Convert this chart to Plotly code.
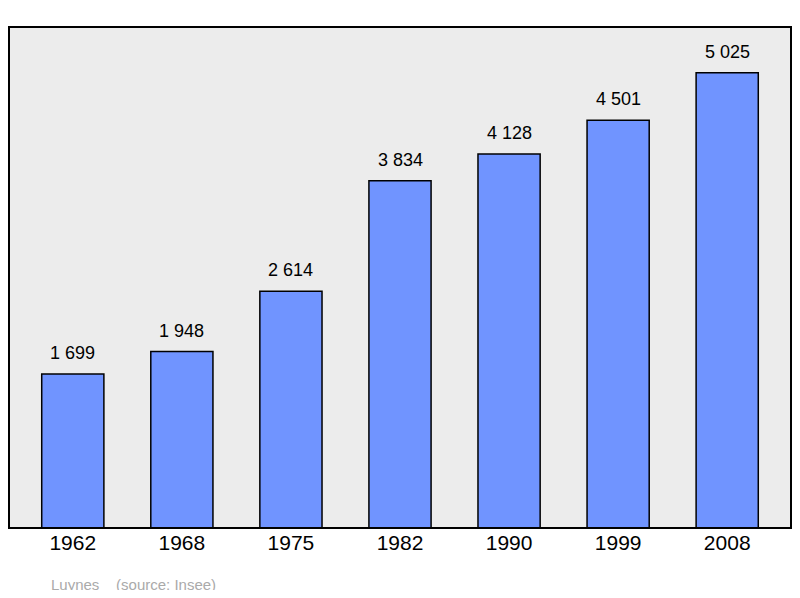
import plotly.graph_objects as go

years = ["1962", "1968", "1975", "1982", "1990", "1999", "2008"]
population = [1699, 1948, 2614, 3834, 4128, 4501, 5025]
labels = ["1 699", "1 948", "2 614", "3 834", "4 128", "4 501", "5 025"]

fig = go.Figure(go.Bar(
    x=list(range(len(years))), y=population,
    width=0.57,
    marker=dict(color="#7094ff", line=dict(color="black", width=1.5)),
    hoverinfo="skip",
))
for i, (v, t) in enumerate(zip(population, labels)):
    fig.add_annotation(x=i, y=v, text=t, showarrow=False, yanchor="bottom",
                       yshift=9, font=dict(size=18, color="black"))
fig.add_annotation(xref="paper", yref="paper", x=0.051, y=-0.112, xanchor="left",
                   yanchor="middle", showarrow=False,
                   text="Luynes    (source: Insee)", font=dict(size=15, color="#aaaaaa"))
fig.add_shape(type="rect", xref="paper", yref="paper", x0=0, x1=1, y0=0, y1=1,
              line=dict(color="black", width=2), layer="above")
fig.update_layout(
    width=790, height=582,
    margin=dict(l=1, r=7, t=19, b=62, autoexpand=False),
    plot_bgcolor="#ececec", paper_bgcolor="white",
    font=dict(family="Liberation Sans, Arial, sans-serif", color="black"),
    showlegend=False,
    xaxis=dict(range=[-0.585, 6.585], tickvals=list(range(len(years))), ticktext=years,
               showgrid=False, zeroline=False, ticks="", tickfont=dict(size=21)),
    yaxis=dict(range=[0, 5530], visible=False, showgrid=False),
)
fig.write_html("out.html")
